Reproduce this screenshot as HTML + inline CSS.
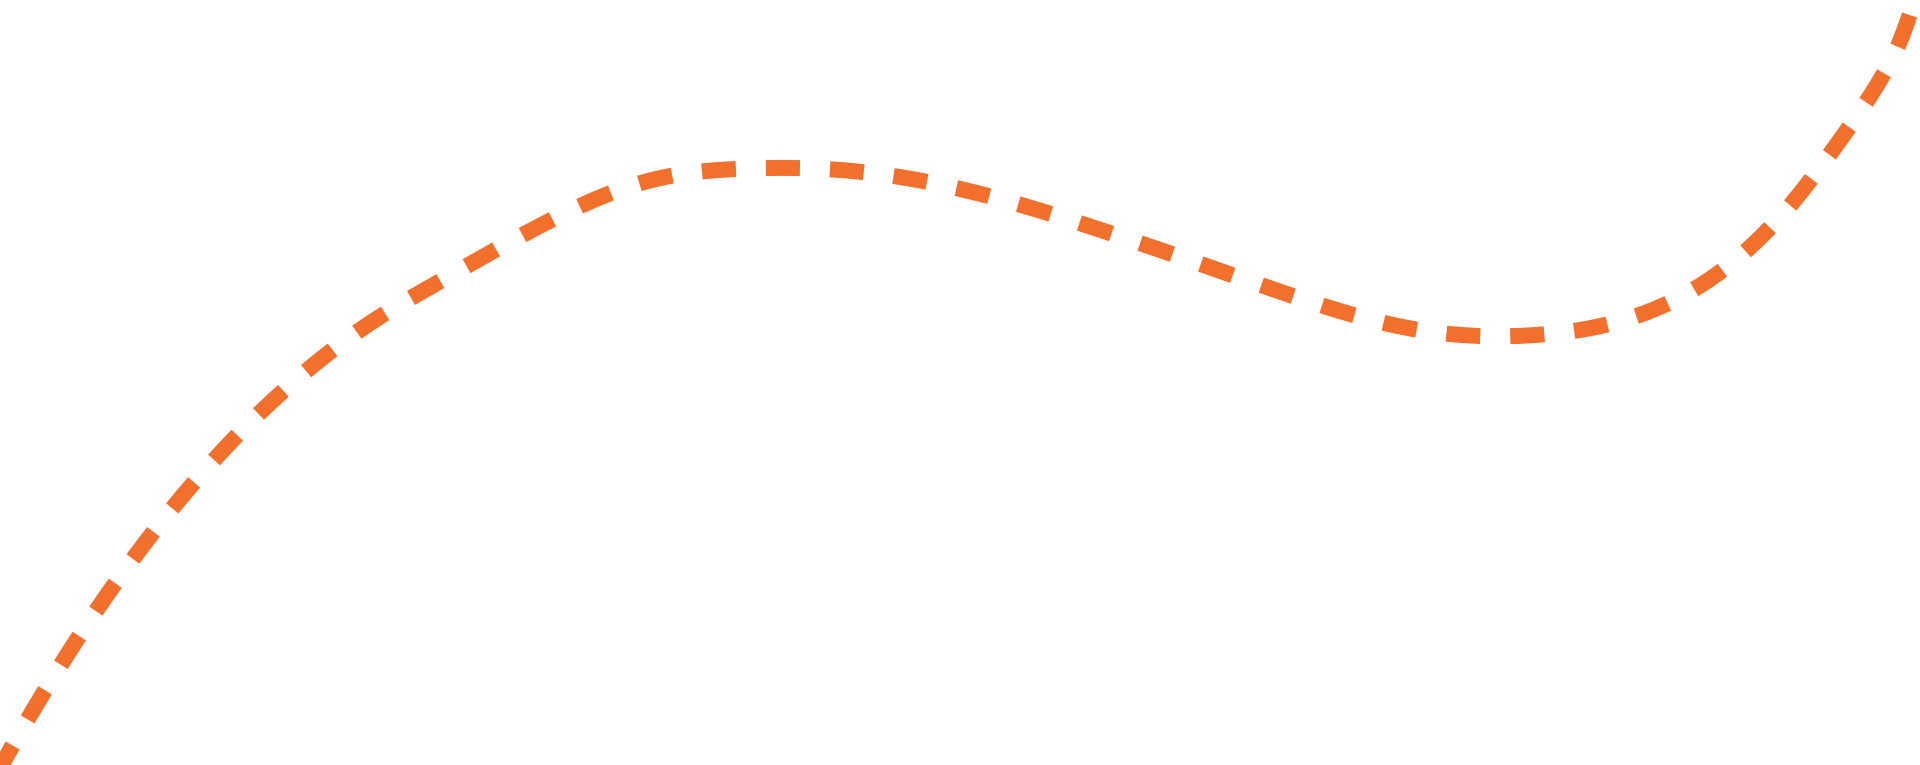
<!DOCTYPE html>
<html><head><meta charset="utf-8"><style>html,body{margin:0;padding:0;background:#fff;width:1920px;height:765px;overflow:hidden}</style></head>
<body>
<svg width="1920" height="765" viewBox="0 0 1920 765" xmlns="http://www.w3.org/2000/svg">
<path d="M -4 775 C 60 660, 200 420, 404 302 S 640 170, 771 168 S 1000 195, 1163 251 S 1400 340, 1515 336 S 1720 300, 1812 178 S 1900 40, 1918 -10" fill="none" stroke="#f2702c" stroke-width="16" stroke-dasharray="34 30"/>
</svg>
</body></html>
